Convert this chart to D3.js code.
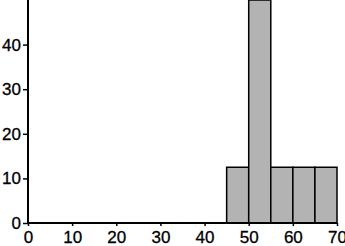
<!DOCTYPE html>
<html lang="en">
  <head>
    <meta charset='utf-8'>
    <script type="text/javascript" src="https://cdn.jsdelivr.net/npm/d3@7"></script>
    <title>Histogram</title>
    <style>
      body{margin:0;background:white;}
      text{font-family:"Liberation Sans",Arial,sans-serif;}
    </style>
  </head>
  <body>
    <div id="mainDiv"></div>
    <script type="text/javascript">
      //Bin edges and bar heights (percent)
      var binStarts=[0,5,10,15,20,25,30,35,40,45,50,55,60,65];
      var binWidth=5;
      var counts=[0,0,0,0,0,0,0,0,0,12.5,50,12.5,12.5,12.5];
      var xTicks=[0,10,20,30,40,50,60,70];
      var yTicks=[0,10,20,30,40];

      var w=345, h=246;
      var margin={top:0,right:8,bottom:23,left:28};
      //Create SVG
      var svg=d3.select("#mainDiv")
        .append("svg")
        .attr("width",w)
        .attr("height",h);

      var x=d3.scaleLinear().domain([0,70]).range([margin.left,w-margin.right]);
      var y=d3.scaleLinear().domain([0,50]).range([h-margin.bottom,margin.top]);

      //Bars
      svg.selectAll(".bar")
        .data(counts)
        .enter()
        .append("rect")
        .attr("class","bar")
        .attr("x",function(d,i){return x(binStarts[i]);})
        .attr("width",function(d,i){return x(binStarts[i]+binWidth)-x(binStarts[i]);})
        .attr("y",function(d){return y(d);})
        .attr("height",function(d){return y(0)-y(d);})
        .attr("fill","#b3b3b3")
        .attr("stroke","black")
        .attr("stroke-width",1.5);

      //Axes
      var xAxis=svg.append("g")
        .attr("transform","translate(0,"+y(0)+")")
        .call(d3.axisBottom(x).tickValues(xTicks).tickSize(3).tickPadding(5));
      var yAxis=svg.append("g")
        .attr("transform","translate("+x(0)+",0)")
        .call(d3.axisLeft(y).tickValues(yTicks).tickSize(5).tickPadding(2));

      [xAxis,yAxis].forEach(function(a){
        a.select(".domain").attr("d",null);
        a.selectAll(".tick line").attr("stroke-width",1.5);
        a.selectAll("text").attr("font-size",17).attr("fill","black")
          .attr("stroke","black").attr("stroke-width",0.3)
          .attr("font-family","Liberation Sans, Arial, sans-serif");
      });
      //Axis lines
      svg.append("line")
        .attr("x1",x(0)).attr("x2",x(0))
        .attr("y1",0).attr("y2",y(0)+1)
        .attr("stroke","black").attr("stroke-width",2);
      svg.append("line")
        .attr("x1",x(0)-1).attr("x2",x(70))
        .attr("y1",y(0)).attr("y2",y(0))
        .attr("stroke","black").attr("stroke-width",2);
    </script>
  </body>
</html>
